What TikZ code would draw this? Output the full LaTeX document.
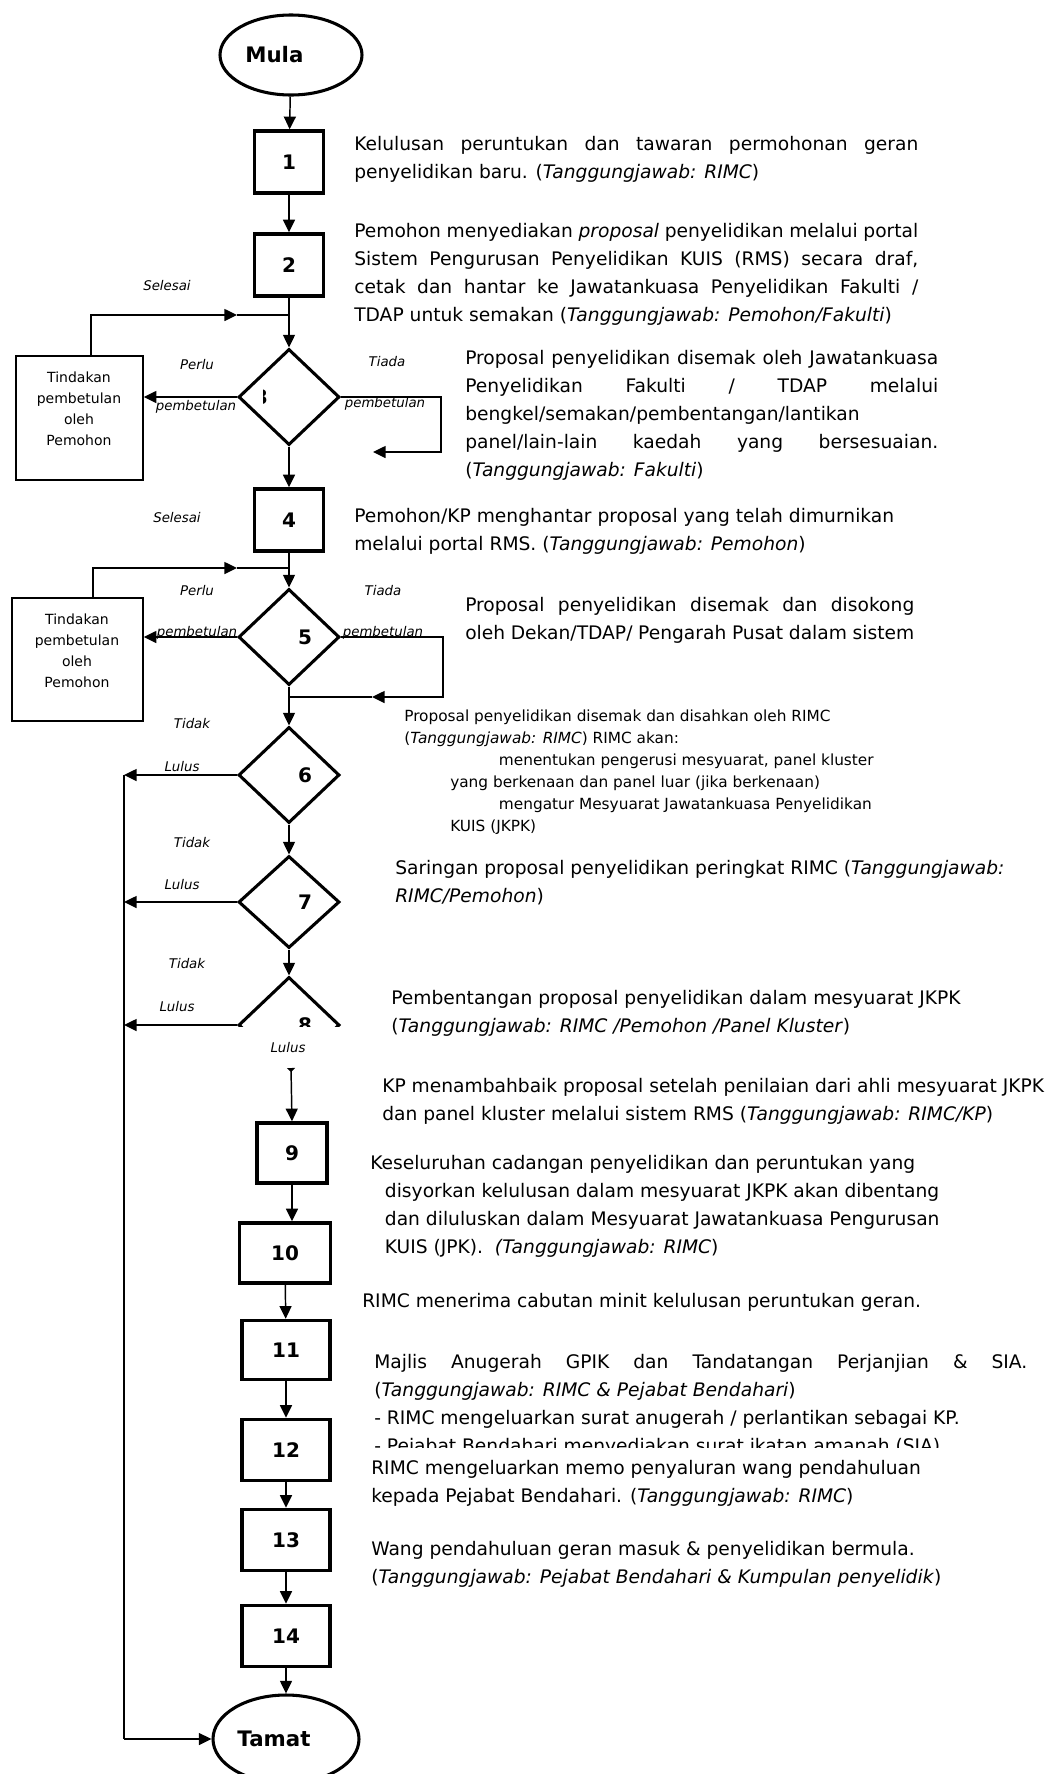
\documentclass[tikz,border=0pt]{standalone}
\usepackage{fontspec}
\setmainfont{DejaVu Sans}
\usepackage{tikz}
\usetikzlibrary{shapes.geometric,arrows.meta}

\begin{document}
\begin{tikzpicture}[x=0.75pt, y=-0.75pt,
  garis/.style={line width=1.1pt},
  anak/.style={garis, -{Triangle[length=9.5pt,width=9pt]}},
  hujung/.style={ellipse, draw, line width=2.3pt, minimum width=106.5pt,
    minimum height=60pt, inner sep=0pt, font=\fontsize{16}{20}\selectfont\bfseries},
  langkah/.style={rectangle, draw, line width=2.6pt, minimum width=51.75pt,
    minimum height=46.5pt, inner sep=0pt, font=\fontsize{15}{19}\selectfont\bfseries},
  lebar/.style={langkah, minimum width=66pt},
  semak/.style={diamond, draw, line width=2.3pt, minimum width=75.75pt,
    minimum height=72pt, inner sep=0pt, font=\fontsize{15}{19}\selectfont\bfseries},
  tindakan/.style={rectangle, draw, line width=1.1pt, minimum width=95.25pt,
    minimum height=93pt},
  kecil/.style={font=\fontsize{10.5}{15.75}\selectfont, align=center, inner sep=0pt},
  lbl/.style={font=\fontsize{10}{13}\selectfont\itshape, inner sep=0pt},
  teks/.style={font=\fontsize{14}{21}\selectfont, inner sep=0pt, anchor=north west, align=left},
  jteks/.style={teks, align=justify, text width=#1},
]
  \useasboundingbox (0,0) rectangle (1059,1774);

  % ══ MAIN FLOW ═════════════════════════════════════════════════
  \node[hujung] (mula) at (291,55) {Mula\hspace*{25pt}};
  \node[langkah] (b1) at (289,162) {1};
  \node[langkah] (b2) at (289,265) {2};
  \node[semak] (d3) at (289,397) {};
  \node[langkah] (b4) at (289,520) {4};
  \node[semak] (d5) at (289,637) {\hspace*{24pt}5};
  \node[semak] (d6) at (289,775) {\hspace*{24pt}6};
  \node[semak, minimum height=69pt] (d7) at (289,902) {\hspace*{24pt}7};
  \begin{scope}
    \clip (0,0) rectangle (1059,1026);
    \node[semak] (d8) at (289,1025) {\hspace*{24pt}8};
  \end{scope}
  \begin{scope}
    \clip (263,380) rectangle (285,415);
    \node[font=\fontsize{15}{19}\selectfont\bfseries, inner sep=0pt] (d3n) at (261,397) {3};
  \end{scope}
  \node[langkah, minimum width=52.5pt, minimum height=45pt] (b9) at (292,1153) {9};
  \node[lebar, minimum width=68pt, minimum height=45pt] (b10) at (285,1253) {10};
  \node[lebar, minimum height=44.25pt] (b11) at (286,1350) {11};
  \node[lebar, minimum height=45.75pt] (b12) at (286,1450) {12};
  \node[lebar, minimum height=45.75pt] (b13) at (286,1540) {13};
  \node[lebar, minimum height=45.75pt] (b14) at (286,1636) {14};
  \node[hujung, minimum width=109.5pt, minimum height=66pt] (tamat) at (286,1739) {Tamat\hspace*{18pt}};

  % ══ CORRECTION BOXES ══════════════════════════════════════════
  \node[tindakan] (t1) at (79.5,418) {};
  \node[kecil] (t1l) at (79,408.5) {Tindakan\\pembetulan\\oleh\\Pemohon};
  \node[tindakan, minimum width=98.25pt, minimum height=92.25pt] (t2) at (77.5,659.5) {};
  \node[kecil] (t2l) at (77,650.5) {Tindakan\\pembetulan\\oleh\\Pemohon};

  % ══ JUNCTIONS ═════════════════════════════════════════════════
  \coordinate (j1) at (289,315);
  \coordinate (a1) at (237,315);
  \coordinate (k1) at (91,315);
  \coordinate (r1) at (373,452);
  \coordinate (j2) at (289,568);
  \coordinate (a2) at (237,568);
  \coordinate (k2) at (93,568);
  \coordinate (r2) at (372,697);
  \coordinate (j3) at (289,697);
  \coordinate (ll) at (124,775);
  \coordinate (lb) at (124,1739);
  \coordinate (s9) at (291,1068);

  % ══ ARROWS ════════════════════════════════════════════════════
  \draw[anak] (mula) -- (b1);
  \draw[anak] (b1) -- (b2);
  \draw[anak] (b2) -- (d3);
  \draw[anak] (k1 |- t1.north) -- (k1) -- (a1);
  \draw[garis] (a1) -- (j1);
  \draw[anak] (d3.west) -- (t1.east |- d3.west);
  \draw[anak] (d3.east) -- ++(100,0) |- (r1);
  \draw[anak] (d3) -- (b4);
  \draw[anak] (b4) -- (d5);
  \draw[anak] (k2 |- t2.north) -- (k2) -- (a2);
  \draw[garis] (a2) -- (j2);
  \draw[anak] (d5.west) -- (t2.east |- d5.west);
  \draw[anak] (d5.east) -- ++(102,0) |- (r2);
  \draw[garis] (r2) -- (j3);
  \draw[anak] (d5) -- (d6);
  \draw[anak] (d6.west) -- (ll);
  \draw[anak] (d6) -- (d7);
  \draw[anak] (d7.west) -- (d7.west -| ll);
  \draw[anak] (d7) -- (d8);
  \draw[anak] (d8.west) -- (d8.west -| ll);
  \draw[garis] (ll) -- (lb);
  \draw[anak] (lb) -- (tamat.west);
  \draw[garis, {Triangle[reversed,length=3pt,width=6pt]}-{Triangle[length=9.5pt,width=9pt]}] (s9) -- (b9.north);
  \draw[anak] (b9.south) -- (b9.south |- b10.north);
  \draw[anak] (b10) -- (b11);
  \draw[anak] (b11) -- (b12);
  \draw[anak] (b12) -- (b13);
  \draw[anak] (b13) -- (b14);
  \draw[anak] (b14) -- (tamat);

  % ══ BRANCH LABELS ═════════════════════════════════════════════
  \node[lbl] (sel1) at (167,286) {Selesai};
  \node[lbl] (perlu1) at (197,365) {Perlu};
  \node[lbl] (pbl1) at (196,407) {pembetulan};
  \node[lbl] (tiada1) at (387,362) {Tiada};
  \node[lbl] (pbr1) at (385,404) {pembetulan};
  \node[lbl] (sel2) at (177,518) {Selesai};
  \node[lbl] (perlu2) at (197,591) {Perlu};
  \node[lbl] (pbl2) at (197,633) {pembetulan};
  \node[lbl] (tiada2) at (383,591) {Tiada};
  \node[lbl] (pbr2) at (383,633) {pembetulan};
  \node[lbl] (tidak1) at (192,724) {Tidak};
  \node[lbl] (lulus1) at (182,767) {Lulus};
  \node[lbl] (tidak2) at (192,843) {Tidak};
  \node[lbl] (lulus2) at (182,885) {Lulus};
  \node[lbl] (tidak3) at (187,964) {Tidak};
  \node[lbl] (lulus3) at (177,1007) {Lulus};
  \node[lbl] (lulus4) at (288,1048) {Lulus};

  % ══ DESCRIPTIONS ══════════════════════════════════════════════
  \node[jteks=423pt] (t1d) at (354,136)
    {Kelulusan peruntukan dan tawaran permohonan geran\linebreak
     penyelidikan baru. (\textit{Tanggungjawab: RIMC})};
  \node[jteks=423pt] (t2d) at (354,223)
    {Pemohon menyediakan \textit{proposal} penyelidikan melalui portal\linebreak
     Sistem Pengurusan Penyelidikan KUIS (RMS) secara draf,\linebreak
     cetak dan hantar ke Jawatankuasa Penyelidikan Fakulti /\linebreak
     TDAP untuk semakan (\textit{Tanggungjawab: Pemohon/Fakulti})};
  \node[jteks=354.75pt] (t3d) at (465,350)
    {Proposal penyelidikan disemak oleh Jawatankuasa\linebreak
     Penyelidikan Fakulti / TDAP melalui\linebreak
     bengkel/semakan/pembentangan/lantikan\linebreak
     panel/lain-lain kaedah yang bersesuaian.\linebreak
     (\textit{Tanggungjawab: Fakulti})};
  \node[teks] (t4d) at (354,508)
    {Pemohon/KP menghantar proposal yang telah dimurnikan\\
     melalui portal RMS. (\textit{Tanggungjawab: Pemohon})};
  \node[jteks=336.75pt] (t5d) at (465,597)
    {\parfillskip=0pt Proposal penyelidikan disemak dan disokong\linebreak
     oleh Dekan/TDAP/ Pengarah Pusat dalam sistem};
  \node[teks, font=\fontsize{11.5}{16.5}\selectfont] (t6d) at (404,710)
    {Proposal penyelidikan disemak dan disahkan oleh RIMC\\
     (\textit{Tanggungjawab: RIMC}) RIMC akan:\\
     \hspace*{71pt}menentukan pengerusi mesyuarat, panel kluster\\
     \hspace*{34.5pt}yang berkenaan dan panel luar (jika berkenaan)\\
     \hspace*{71pt}mengatur Mesyuarat Jawatankuasa Penyelidikan\\
     \hspace*{34.5pt}KUIS (JKPK)};
  \node[teks] (t7d) at (395,860)
    {Saringan proposal penyelidikan peringkat RIMC (\textit{Tanggungjawab:}\\
     \textit{RIMC/Pemohon})};
  \node[teks] (t8d) at (391,990)
    {Pembentangan proposal penyelidikan dalam mesyuarat JKPK\\
     (\textit{Tanggungjawab: RIMC /Pemohon /Panel Kluster})};
  \node[teks] (t9d) at (382,1078)
    {KP menambahbaik proposal setelah penilaian dari ahli mesyuarat JKPK\\
     dan panel kluster melalui sistem RMS (\textit{Tanggungjawab: RIMC/KP})};
  \node[teks] (t10d) at (370,1155)
    {Keseluruhan cadangan penyelidikan dan peruntukan yang\\
     \hspace*{11pt}disyorkan kelulusan dalam mesyuarat JKPK akan dibentang\\
     \hspace*{11pt}dan diluluskan dalam Mesyuarat Jawatankuasa Pengurusan\\
     \hspace*{11pt}KUIS (JPK).\ \ \textit{(Tanggungjawab: RIMC})};
  \node[teks] (t11d) at (362,1293)
    {RIMC menerima cabutan minit kelulusan peruntukan geran.};
  \begin{scope}
    \clip (300,1340) rectangle (1059,1447);
    \node[jteks=489.75pt] (t12d) at (374,1354)
      {Majlis Anugerah GPIK dan Tandatangan Perjanjian \& SIA.\linebreak
       (\textit{Tanggungjawab: RIMC \& Pejabat Bendahari})\newline
       - RIMC mengeluarkan surat anugerah / perlantikan sebagai KP.\newline
       - Pejabat Bendahari menyediakan surat ikatan amanah (SIA).};
  \end{scope}
  \node[teks] (t13d) at (371,1460)
    {RIMC mengeluarkan memo penyaluran wang pendahuluan\\
     kepada Pejabat Bendahari. (\textit{Tanggungjawab: RIMC})};
  \node[teks] (t14d) at (371,1541)
    {Wang pendahuluan geran masuk \& penyelidikan bermula.\\
     (\textit{Tanggungjawab: Pejabat Bendahari \& Kumpulan penyelidik})};

\end{tikzpicture}
\end{document}
